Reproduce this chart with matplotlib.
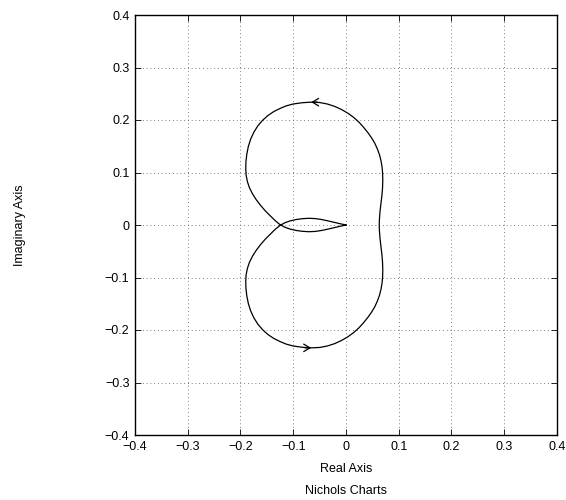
import numpy as np
import matplotlib
matplotlib.use("Agg")
import matplotlib.pyplot as plt

# half of the Nyquist curve: from the right real-axis crossing, over the top,
# through the left crossing and back into the origin
half_re = [0.0630, 0.0635, 0.0645, 0.0662, 0.0680, 0.0693, 0.0698, 0.0695,
           0.0685, 0.0665, 0.0635, 0.0595, 0.0545, 0.0485, 0.0415, 0.0335,
           0.0245, 0.0145, 0.0035, -0.0085, -0.0215, -0.0355, -0.0500,
           -0.0650, -0.0820, -0.1000, -0.1130, -0.1250, -0.1370, -0.1480,
           -0.1580, -0.1670, -0.1745, -0.1805, -0.1850, -0.1880, -0.1897,
           -0.1900, -0.1893, -0.1870, -0.1830, -0.1770, -0.1700, -0.1620,
           -0.1530, -0.1440, -0.1350, -0.1260, -0.1165, -0.1060, -0.0950,
           -0.0830, -0.0700, -0.0580, -0.0460, -0.0340, -0.0220, -0.0110, 0.0]
half_im = [0.000, 0.012, 0.025, 0.040, 0.055, 0.070, 0.085, 0.098,
           0.110, 0.122, 0.134, 0.145, 0.156, 0.166, 0.176, 0.186,
           0.196, 0.205, 0.213, 0.220, 0.226, 0.2305, 0.2333,
           0.2340, 0.2330, 0.2305, 0.2270, 0.2220, 0.2160, 0.2085,
           0.1995, 0.1890, 0.1770, 0.1640, 0.1500, 0.1350, 0.1200,
           0.1070, 0.0950, 0.0830, 0.0710, 0.0590, 0.0480, 0.0375,
           0.0270, 0.0180, 0.0090, 0.0015, -0.0040, -0.0078, -0.0103,
           -0.0120, -0.0128, -0.0122, -0.0104, -0.0078, -0.0050, -0.0024, 0.0]

# direction arrows (tip x, tip y, direction along real axis)
arrow_tips = [(-0.066, 0.234, -1), (-0.066, -0.234, 1)]

ticks = [-0.4, -0.3, -0.2, -0.1, 0, 0.1, 0.2, 0.3, 0.4]
tick_labels = ["\u22120.4", "\u22120.3", "\u22120.2", "\u22120.1", "0",
               "0.1", "0.2", "0.3", "0.4"]

plt.rcParams["font.family"] = ["Liberation Sans", "DejaVu Sans"]
plt.rcParams["font.size"] = 9

re = np.array(half_re)
im = np.array(half_im)
# the other half is the mirror image, traversed the other way
full_re = np.concatenate([re[::-1], re[1:]])
full_im = np.concatenate([-im[::-1], im[1:]])

fig = plt.figure(figsize=(5.66, 5.0), dpi=100)
ax = fig.add_axes([0.2385, 0.13, 0.7455, 0.84])

ax.plot(full_re, full_im, color="black", linewidth=0.9)

for x, y, d in arrow_tips:
    ax.annotate("", xy=(x, y), xytext=(x - d * 0.012, y),
                arrowprops=dict(arrowstyle="->,head_length=0.5,head_width=0.3",
                                color="black", linewidth=0.9, shrinkA=0, shrinkB=0))

ax.set_xlim(-0.4, 0.4)
ax.set_ylim(-0.4, 0.4)
ax.set_xticks(ticks)
ax.set_xticklabels(tick_labels)
ax.set_yticks(ticks)
ax.set_yticklabels(tick_labels)
ax.tick_params(direction="in", length=4, width=0.6, top=True, right=True, pad=4)
for s in ax.spines.values():
    s.set_linewidth(1.0)
ax.grid(True, linestyle=(0, (1, 3.5)), color="#555555", linewidth=0.6)

ax.set_xlabel("Real Axis", va="center")
ax.xaxis.set_label_coords(0.5, -0.081)
ax.set_ylabel("Imaginary Axis", va="center")
ax.yaxis.set_label_coords(-0.2725, 0.5)
fig.text(346 / 566, 1 - 490.7 / 500, "Nichols Charts", ha="center", va="center")

fig.savefig("out.png", dpi=100)
